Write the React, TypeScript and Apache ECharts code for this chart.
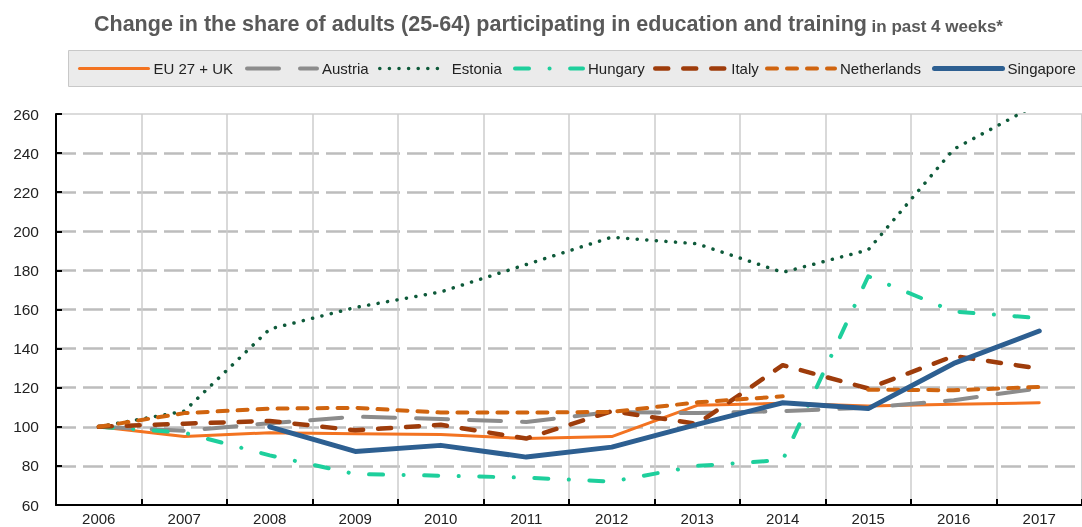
import React, { useEffect, useRef } from 'react';
import * as echarts from 'echarts';

const years = ['2006', '2007', '2008', '2009', '2010', '2011', '2012', '2013', '2014', '2015', '2016', '2017'];
const yTicks = { min: 60, max: 260, step: 20 };

const euUk = [100, 95, 97, 96.5, 96, 94, 95, 111, 112, 110.7, 111.5, 112.3];
const austria = [100, 98, 101.8, 105.2, 104, 102.5, 107.6, 107, 108, 109.8, 113.6, 119.7];
const estonia = [100, 108, 150, 161, 169, 183, 197, 193.6, 179, 190.5, 242, 265.5];
const hungary = [100, 97, 85.4, 75.8, 75, 74, 72, 80, 83, 177, 159, 155.6];
const italy = [100, 101.6, 103, 98.2, 101, 94, 108, 101.5, 131.5, 119.6, 136.2, 129.8];
const netherlands = [100, 107, 109.3, 109.7, 107.3, 107.3, 107.6, 112.5, 115.6, 119, 118.7, 120.4];
const netherlandsBreakAfter = '2014';
const singapore = [null, null, 100, 87.4, 90.5, 84.5, 89.6, 101.2, 112.3, 109.3, 132.4, 149];

const FONT = '"Liberation Sans", Arial, sans-serif';

export default function App() {
  const ref = useRef<HTMLDivElement>(null);

  useEffect(() => {
    if (!ref.current) return;
    const chart = echarts.init(ref.current, undefined, { renderer: 'svg' });

    const breakIdx = years.indexOf(netherlandsBreakAfter);
    const nlA = netherlands.map((v, i) => (i <= breakIdx ? v : null));
    const nlB = netherlands.map((v, i) => (i > breakIdx ? v : null));

    const mk = (name: string, data: (number | null)[], color: string, width: number, type: any) => ({
      name,
      type: 'line',
      data,
      symbol: 'none',
      connectNulls: false,
      lineStyle: { color, width, type, cap: 'round', join: 'round' },
      itemStyle: { color },
      emphasis: { disabled: true },
    });

    const series = [
      mk('EU 27 + UK', euUk, '#f37321', 3, 'solid'),
      mk('Austria', austria, '#8c8c8c', 4, [32, 21]),
      mk('Estonia', estonia, '#0e5a3a', 3.5, [0.1, 9.5]),
      mk('Hungary', hungary, '#1ecf9c', 4, [14, 20.5, 0.1, 20.5]),
      mk('Italy', italy, '#9e3c0b', 4.5, [13, 15]),
      mk('Netherlands', nlA, '#d0640f', 4, [10, 10]),
      mk('Netherlands', nlB, '#d0640f', 4, [10, 10]),
      mk('Singapore', singapore, '#2d5f91', 5, 'solid'),
    ];

    const legendItems = [
      { name: 'EU 27 + UK', left: 78, w: 69 },
      { name: 'Austria', left: 245, w: 70 },
      { name: 'Estonia', left: 378, w: 67 },
      { name: 'Hungary', left: 513, w: 68 },
      { name: 'Italy', left: 653, w: 71 },
      { name: 'Netherlands', left: 765, w: 68 },
      { name: 'Singapore', left: 932, w: 68 },
    ];

    chart.setOption({
      animation: false,
      title: {
        left: 89,
        top: 6,
        text: '{a|Change in the share of adults (25-64) participating in education and training}{b| in past 4 weeks*}',
        textStyle: {
          rich: {
            a: { fontSize: 21.5, fontWeight: 'bold', color: '#595959', fontFamily: FONT, verticalAlign: 'bottom', lineHeight: 24 },
            b: { fontSize: 17, fontWeight: 'bold', color: '#595959', fontFamily: FONT, verticalAlign: 'bottom', lineHeight: 24 },
          },
        },
      },
      graphic: [
        {
          type: 'rect',
          z: -1,
          shape: { x: 68.5, y: 50.5, width: 1030, height: 36 },
          style: { fill: '#ebebeb', stroke: '#c8c8c8', lineWidth: 1 },
          silent: true,
        },
      ],
      legend: legendItems.map((it) => ({
        data: [it.name],
        left: it.left,
        top: 61,
        padding: 0,
        itemWidth: it.w,
        itemHeight: 14,
        itemGap: 0,
        selectedMode: false,
        textStyle: { fontSize: 15, color: '#222', fontFamily: FONT, padding: [0, 0, 0, 0] },
        itemStyle: { opacity: 0 },
        lineStyle: { width: 'inherit' },
      })),
      grid: {
        left: 56,
        top: 114,
        width: 1036,
        height: 391,
        show: true,
        borderColor: '#d0d0d0',
        borderWidth: 1.5,
        backgroundColor: 'transparent',
      },
      xAxis: {
        type: 'category',
        data: years,
        boundaryGap: true,
        axisLine: { lineStyle: { color: '#000', width: 2 } },
        axisTick: { show: true, inside: true, length: 6, interval: 0, lineStyle: { color: '#000', width: 2 } },
        axisLabel: { fontSize: 15, color: '#222', fontFamily: FONT, margin: 6, interval: 0 },
        splitLine: { show: true, interval: 0, lineStyle: { color: '#cccccc', width: 1.5 } },
      },
      yAxis: {
        type: 'value',
        min: yTicks.min,
        max: yTicks.max,
        interval: yTicks.step,
        axisLine: { show: true, lineStyle: { color: '#000', width: 2 } },
        axisTick: { show: true, inside: true, length: 6, lineStyle: { color: '#000', width: 2 } },
        axisLabel: { fontSize: 15.5, color: '#222', fontFamily: FONT, margin: 17 },
        splitLine: {
          show: true,
          showMinLine: false,
          showMaxLine: false,
          lineStyle: { color: '#bdbdbd', width: 2.5, type: [20, 7] },
        },
      },
      series,
    });

    return () => chart.dispose();
  }, []);

  return <div ref={ref} style={{ position: 'fixed', left: 0, top: 0, width: 1082, height: 527 }} />;
}
